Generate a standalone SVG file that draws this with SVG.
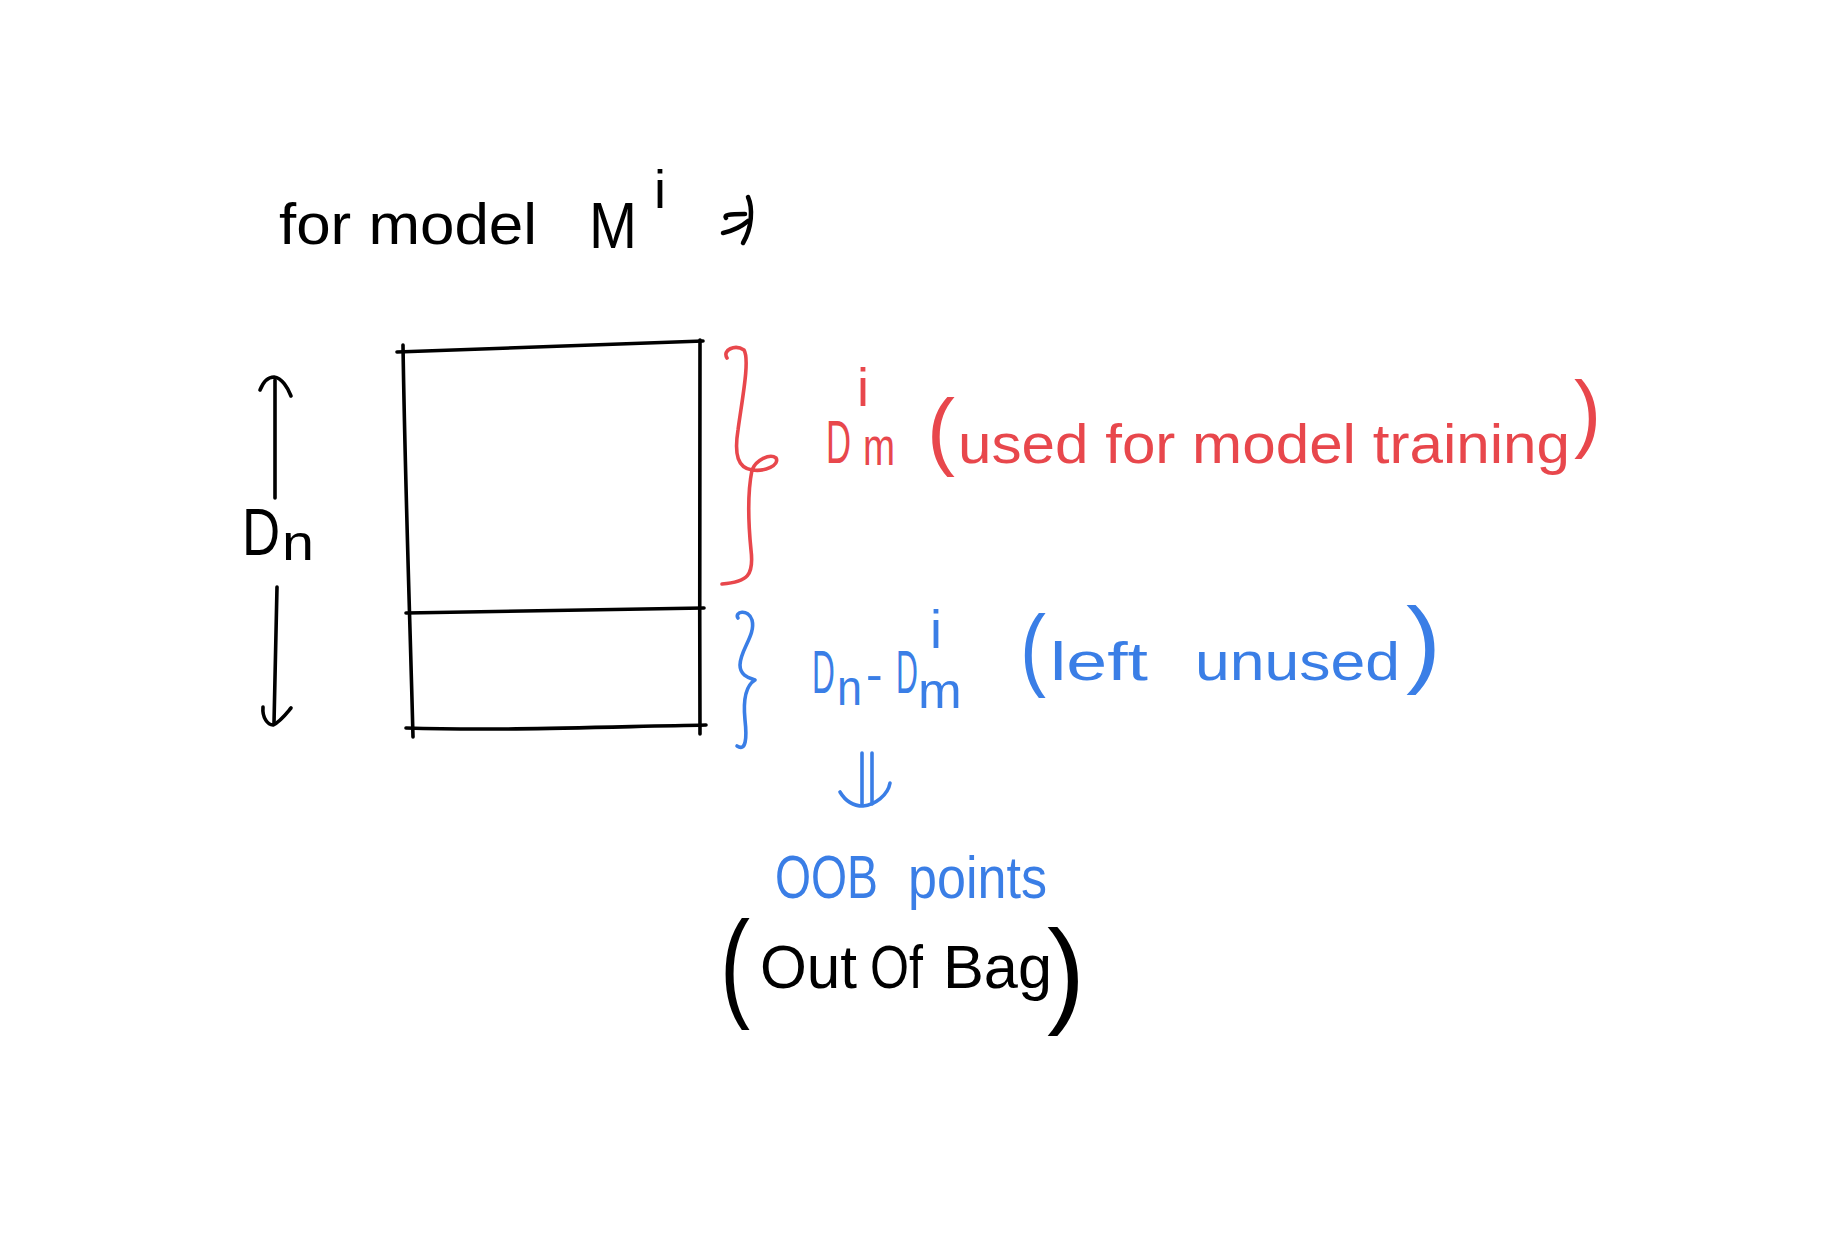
<svg xmlns="http://www.w3.org/2000/svg" width="1822" height="1233" viewBox="0 0 1822 1233">
<style>
  .ink { fill: none; stroke: #000; stroke-width: 3.6; stroke-linecap: round; stroke-linejoin: round; }
  .red { fill: none; stroke: #E8474C; stroke-width: 3.6; stroke-linecap: round; stroke-linejoin: round; }
  .blue { fill: none; stroke: #3A7EE6; stroke-width: 3.6; stroke-linecap: round; stroke-linejoin: round; }
  text { font-family: "Liberation Sans", "DejaVu Sans", sans-serif; }
  .tk { fill: #000; }
  .tr { fill: #E8474C; }
  .tb { fill: #3A7EE6; }
</style>
<rect width="1822" height="1233" fill="#fff"/>

<g id="title">
  <text class="tk" font-size="58"><tspan x="279" y="244" textLength="258" lengthAdjust="spacingAndGlyphs">for model</tspan><tspan x="589" y="248" font-size="64" textLength="48" lengthAdjust="spacingAndGlyphs">M</tspan><tspan x="654" y="208" font-size="54">i</tspan></text>
</g>

<g id="dataset-box">
  <path class="ink" d="M397,352 C500,349 600,344 703,341"/>
  <path class="ink" d="M403,345 C405,480 410,620 413,737"/>
  <path class="ink" d="M700,340 C701,450 699,600 700,734"/>
  <path class="ink" d="M406,613 C500,611 600,609 704,608"/>
  <path class="ink" d="M406,728 C500,731 600,727 706,725"/>
</g>

<g id="dn-label">
  <text class="tk" font-size="66" transform="translate(242,555) scale(0.8,1)">D</text>
  <text class="tk" font-size="50" transform="translate(282,560) scale(1.15,1)">n</text>
</g>

<g id="training-part">
  <path class="red" d="M727,358 C722,350 735,344 744,350 C750,360 742,400 738,430 C734,455 738,468 752,470 C765,472 780,465 776,458 C770,453 756,460 752,470 C748,490 748,520 751,550 C754,575 748,582 722,584"/>
  <text class="tr" font-size="62" transform="translate(826,463) scale(0.56,1)">D</text>
  <text class="tr" font-size="54" x="857" y="406">i</text>
  <text class="tr" font-size="52" transform="translate(863,465) scale(0.74,1)">m</text>
  <text class="tr" font-size="56"><tspan x="927" y="459" font-size="86" textLength="28" lengthAdjust="spacingAndGlyphs">(</tspan><tspan x="958" y="463" textLength="612" lengthAdjust="spacingAndGlyphs">used for model training</tspan><tspan x="1574" y="441" font-size="86" textLength="27" lengthAdjust="spacingAndGlyphs">)</tspan></text>
</g>

<g id="unused-part">
  <path class="blue" d="M738,618 C734,612 748,608 752,620 C756,635 740,650 740,665 C740,676 750,678 755,680 C745,686 743,700 745,720 C747,738 746,752 737,746"/>
  <text class="tb" font-size="62" transform="translate(812,693) scale(0.51,1)">D</text>
  <text class="tb" font-size="50" transform="translate(837,705) scale(0.9,1)">n</text>
  <text class="tb" font-size="50" x="866" y="691">-</text>
  <text class="tb" font-size="62" transform="translate(896,693) scale(0.49,1)">D</text>
  <text class="tb" font-size="54" x="930" y="648">i</text>
  <text class="tb" font-size="50" transform="translate(918,708) scale(1.05,1)">m</text>
  <text class="tb" font-size="54"><tspan x="1020" y="679" font-size="90" textLength="26" lengthAdjust="spacingAndGlyphs">(</tspan><tspan x="1050" y="680" textLength="98" lengthAdjust="spacingAndGlyphs">left</tspan><tspan x="1195" y="680" textLength="205" lengthAdjust="spacingAndGlyphs">unused</tspan><tspan x="1406" y="675" font-size="96" textLength="35" lengthAdjust="spacingAndGlyphs">)</tspan></text>
</g>

<g id="oob-label">
  <text class="tb" font-size="62"><tspan x="775" y="898" textLength="103" lengthAdjust="spacingAndGlyphs">OOB</tspan><tspan x="908" y="898" font-size="60" textLength="139" lengthAdjust="spacingAndGlyphs">points</tspan></text>
  <text class="tk" font-size="62"><tspan x="720" y="1005" font-size="120" textLength="30" lengthAdjust="spacingAndGlyphs">(</tspan><tspan x="760" y="988" textLength="97" lengthAdjust="spacingAndGlyphs">Out</tspan><tspan x="870" y="988" textLength="53" lengthAdjust="spacingAndGlyphs">Of</tspan><tspan x="943" y="988" textLength="109" lengthAdjust="spacingAndGlyphs">Bag</tspan><tspan x="1047" y="1012" font-size="117" textLength="38" lengthAdjust="spacingAndGlyphs">)</tspan></text>
</g>

<g id="connectors">
  <path class="ink" style="stroke-width:4.5" d="M726,218 C724,215 728,214 745,214"/>
  <path class="ink" style="stroke-width:4.5" d="M723,233 C732,231 741,227 748,221"/>
  <path class="ink" style="stroke-width:4.5" d="M748,197 C753,208 752,228 743,243"/>
  <path class="ink" d="M275,498 L275,380"/>
  <path class="ink" d="M260,390 C264,380 270,377 274,377 C282,378 288,388 291,396"/>
  <path class="ink" d="M277,587 L274,723"/>
  <path class="ink" d="M263,707 C262,718 268,725 273,725 C280,722 286,714 291,708"/>
  <path class="blue" d="M862,753 L862,804"/>
  <path class="blue" d="M872,753 L872,804"/>
  <path class="blue" d="M840,792 C846,802 855,806 863,806 C875,805 888,795 890,783"/>
</g>
</svg>
